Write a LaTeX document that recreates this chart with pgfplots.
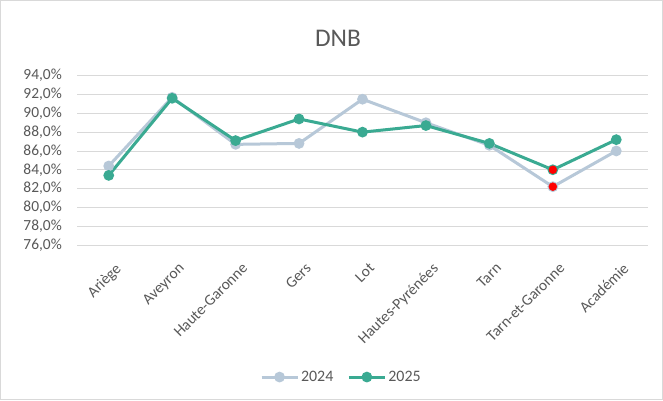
\documentclass[border=0pt]{standalone}
\usepackage{pgfplots}
\pgfplotsset{compat=1.18}
\usepackage{fontspec}
\setmainfont{Carlito}
\definecolor{c24}{HTML}{B7C8D8}
\definecolor{c25}{HTML}{3AAA92}
\definecolor{txt}{HTML}{595959}
\definecolor{grd}{HTML}{D9D9D9}
\begin{document}
\begin{tikzpicture}[x=1bp,y=1bp]
\draw[grd, line width=0.8bp, fill=white] (0.4,0.4) rectangle (662.6,399.6);
\node[txt, font=\fontsize{25.5}{28}\selectfont] at (338,362) {DNB};
\begin{axis}[
  at={(77bp,155bp)}, anchor=south west,
  scale only axis, width=571bp, height=169.3bp,
  xmin=-0.5, xmax=8.5, ymin=76, ymax=94,
  axis line style={draw=none},
  ytick={76,78,...,94},
  xtick={0,...,8},
  xticklabels={Ariège,Aveyron,Haute-Garonne,Gers,Lot,Hautes-Pyrénées,Tarn,Tarn-et-Garonne,Académie},
  major tick length=0pt,
  ymajorgrids, grid style={grd, line width=0.8bp},
  /pgf/number format/assume math mode=true,
  yticklabel={\pgfmathprintnumber[fixed,fixed zerofill,precision=1,use comma]{\tick}\%},
  ticklabel style={font=\fontsize{15.5}{18}\selectfont, text=txt},
  yticklabel style={inner sep=0pt, xshift=-15bp},
  xticklabel style={rotate=45, anchor=north east, inner sep=0pt, xshift=-8bp, yshift=-16bp},
  legend style={at={(0.463,-0.78)}, anchor=center, draw=none, fill=none,
    font=\fontsize{16}{18}\selectfont, text=txt, legend columns=2,
    nodes={inner sep=2bp},
    /tikz/every even column/.append style={column sep=12bp}},
  legend image code/.code={\draw[#1, line width=3bp] (0,0) -- (36bp,0); \draw[#1, mark=*, mark size=3.8bp] plot coordinates {(18bp,0)};},
]
\addplot[c24, line width=3bp, mark=*, mark size=3.8bp] coordinates {
(0,84.4) (1,91.7) (2,86.7) (3,86.8) (4,91.5) (5,89.0) (6,86.6) (7,82.2) (8,86.0)};
\addlegendentry{2024}
\addplot[c25, line width=3bp, mark=*, mark size=3.8bp] coordinates {
(0,83.4) (1,91.6) (2,87.1) (3,89.4) (4,88.0) (5,88.7) (6,86.8) (7,84.0) (8,87.2)};
\addlegendentry{2025}
\addplot[only marks, mark=*, red, mark size=4bp, forget plot] coordinates {(7,84.0) (7,82.2)};
\end{axis}
\end{tikzpicture}
\end{document}
